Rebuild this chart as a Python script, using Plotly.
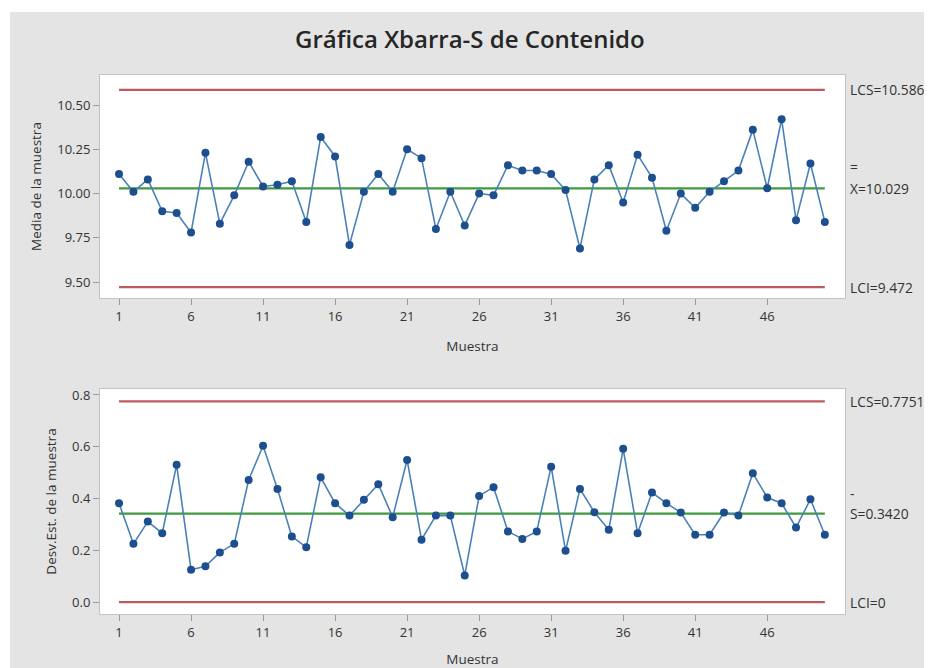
import plotly.graph_objects as go
from plotly.subplots import make_subplots

muestra = list(range(1, 51))
medias = [10.11, 10.01, 10.08, 9.90, 9.89, 9.78, 10.23, 9.83, 9.99, 10.18,
          10.04, 10.05, 10.07, 9.84, 10.32, 10.21, 9.71, 10.01, 10.11, 10.01,
          10.25, 10.20, 9.80, 10.01, 9.82, 10.00, 9.99, 10.16, 10.13, 10.13,
          10.11, 10.02, 9.69, 10.08, 10.16, 9.95, 10.22, 10.09, 9.79, 10.00,
          9.92, 10.01, 10.07, 10.13, 10.36, 10.03, 10.42, 9.85, 10.17, 9.84]
desv = [0.382, 0.225, 0.311, 0.266, 0.530, 0.125, 0.138, 0.192, 0.225, 0.472,
        0.604, 0.437, 0.253, 0.212, 0.482, 0.382, 0.334, 0.395, 0.455, 0.328,
        0.549, 0.241, 0.334, 0.334, 0.103, 0.410, 0.444, 0.273, 0.244, 0.273,
        0.523, 0.198, 0.437, 0.347, 0.279, 0.592, 0.266, 0.423, 0.382, 0.346,
        0.260, 0.260, 0.346, 0.334, 0.498, 0.404, 0.382, 0.288, 0.397, 0.260]

xbar_lim = {"LCS": 10.586, "centro": 10.029, "LCI": 9.472}
s_lim = {"LCS": 0.7751, "centro": 0.3420, "LCI": 0.0}

x_ticks = [1, 6, 11, 16, 21, 26, 31, 36, 41, 46]
y1_ticks = [9.50, 9.75, 10.00, 10.25, 10.50]
y2_ticks = [0.0, 0.2, 0.4, 0.6, 0.8]

RED = "#bd5a60"
GREEN = "#3f9a3f"
LINE = "#4a82b8"
MARK = "#1d4f8f"
TXT = "#333333"
FONT = "Open Sans"

# the page body adds an 8px offset; figure is sized to fit the window
OFF = 8
W, H = 932 - OFF, 668 - OFF
ML, MT = 100 - OFF, 75 - OFF
PR, PB = 845 - OFF, 614 - OFF
MR, MB = W - PR, H - PB
ph = H - MT - MB
pw = W - ML - MR

def px2paper_x(sx):
    return (sx - OFF - ML) / pw

def py2paper_y(sy):
    return (PB - (sy - OFF)) / ph

fig = make_subplots(rows=2, cols=1, vertical_spacing=0.0)

def add_chart(row, vals, lim):
    xs = [muestra[0], muestra[-1]]
    for key, col in (("LCS", RED), ("LCI", RED), ("centro", GREEN)):
        fig.add_trace(go.Scatter(x=xs, y=[lim[key], lim[key]], mode="lines",
                                 line=dict(color=col, width=2.2),
                                 showlegend=False, hoverinfo="skip"), row=row, col=1)
    fig.add_trace(go.Scatter(x=muestra, y=vals, mode="lines+markers",
                             line=dict(color=LINE, width=1.6),
                             marker=dict(color=MARK, size=8),
                             showlegend=False), row=row, col=1)

add_chart(1, medias, xbar_lim)
add_chart(2, desv, s_lim)

top_dom = [py2paper_y(298), 1.0]
bot_dom = [0.0, py2paper_y(389)]

axis_common = dict(showline=True, mirror=True, linecolor="#c4c4c4", linewidth=1,
                   ticks="outside", ticklen=6, tickcolor="#9a9a9a",
                   showgrid=False, zeroline=False, automargin=False,
                   tickfont=dict(family=FONT, size=13, color=TXT))
title_font = dict(family=FONT, size=13.5, color=TXT)

fig.update_xaxes(**axis_common, range=[-0.32, 51.4], tickvals=x_ticks,
                 title=dict(text="Muestra", font=title_font, standoff=17))
fig.update_layout(
    xaxis=dict(domain=[0, 1]),
    xaxis2=dict(domain=[0, 1]),
    yaxis=dict(domain=top_dom, range=[9.41, 10.67], tickvals=y1_ticks, tickformat=".2f",
               title=dict(text="Media de la muestra", font=title_font, standoff=12),
               **axis_common),
    yaxis2=dict(domain=bot_dom, range=[-0.046, 0.823], tickvals=y2_ticks, tickformat=".1f",
                title=dict(text="Desv.Est. de la muestra", font=title_font, standoff=12),
                **axis_common),
)

annots = []
def lab(text, yval, yref, size=13.8):
    annots.append(dict(x=1.0, xref="paper", xanchor="left", xshift=3,
                       y=yval, yref=yref, yanchor="middle", text=text, showarrow=False,
                       font=dict(family=FONT, size=size, color=TXT)))

lab("LCS=%.3f" % xbar_lim["LCS"], xbar_lim["LCS"], "y")
lab("X=%.3f" % xbar_lim["centro"], xbar_lim["centro"], "y")
lab("=", xbar_lim["centro"] + 0.125, "y")
lab("LCI=%.3f" % xbar_lim["LCI"], xbar_lim["LCI"], "y")
lab("LCS=%.4f" % s_lim["LCS"], s_lim["LCS"], "y2")
lab("S=%.4f" % s_lim["centro"], s_lim["centro"], "y2")
lab("-", s_lim["centro"] + 0.078, "y2")
lab("LCI=%d" % s_lim["LCI"], s_lim["LCI"], "y2")

annots.append(dict(x=px2paper_x(470), xref="paper", y=py2paper_y(38), yref="paper",
                   text="Gráfica Xbarra-S de Contenido", showarrow=False,
                   xanchor="center", yanchor="middle",
                   font=dict(family=FONT, size=24, color="#262626", weight=600)))

shapes = [
    dict(type="rect", xref="paper", yref="paper", layer="above",
         x0=px2paper_x(0), x1=px2paper_x(940), y0=py2paper_y(12), y1=py2paper_y(0),
         fillcolor="white", line=dict(width=0)),
    dict(type="rect", xref="paper", yref="paper", layer="above",
         x0=px2paper_x(0), x1=px2paper_x(10), y0=py2paper_y(680), y1=py2paper_y(0),
         fillcolor="white", line=dict(width=0)),
]

fig.update_layout(
    width=W, height=H,
    margin=dict(l=ML, r=MR, t=MT, b=MB),
    paper_bgcolor="#e4e4e4",
    plot_bgcolor="white",
    showlegend=False,
    annotations=annots,
    shapes=shapes,
    font=dict(family=FONT, color=TXT),
)

fig.write_html("out.html")
